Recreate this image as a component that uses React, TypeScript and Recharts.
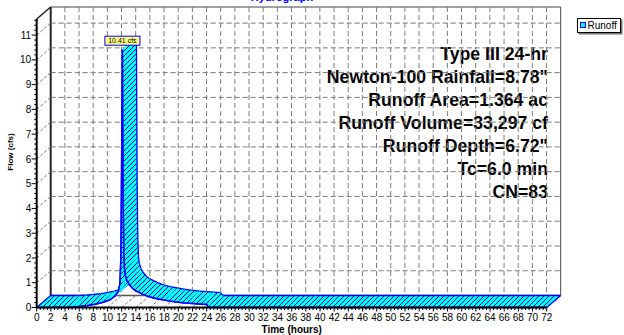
import React from 'react';
import {
  ComposedChart,
  XAxis,
  YAxis,
  Line,
  ReferenceArea,
  ReferenceDot,
  Legend,
  Customized,
} from 'recharts';

// ---------------- data ----------------
const TIME_H = [
  0, 4, 5, 6, 7, 8, 9, 10, 10.5, 11, 11.5, 11.75, 11.9, 12.0, 12.1, 12.2, 12.3, 12.4,
  12.5, 12.75, 13, 13.5, 14, 15, 16, 17, 18, 19, 20, 21, 22, 23, 24, 24.25, 24.5, 72,
];
const FLOW_CFS = [
  0, 0, 0.01, 0.04, 0.07, 0.12, 0.18, 0.27, 0.34, 0.45, 0.65, 0.95, 2.2, 6.5, 10.41, 4.5, 2.2,
  1.55, 1.3, 1.08, 0.95, 0.78, 0.67, 0.53, 0.42, 0.35, 0.3, 0.25, 0.21, 0.18, 0.16, 0.14, 0.12,
  0.02, 0, 0,
];
const SERIES_NAME = 'Runoff';
const PEAK_TIME = 12.1;
const PEAK_FLOW = 10.41;
const PEAK_LABEL = '10.41 cfs';
const X_TICKS = [
  0, 2, 4, 6, 8, 10, 12, 14, 16, 18, 20, 22, 24, 26, 28, 30, 32, 34, 36, 38, 40, 42, 44, 46,
  48, 50, 52, 54, 56, 58, 60, 62, 64, 66, 68, 70, 72,
];
const Y_TICKS = [0, 1, 2, 3, 4, 5, 6, 7, 8, 9, 10, 11];
const X_MAX = 72;
const Y_MAX = 11.65;
const X_MINOR = Array.from({ length: X_MAX * 2 + 1 }, (_, i) => i / 2);
const Y_MINOR = Array.from({ length: 59 }, (_, i) => Math.round(i * 2) / 10);
const INFO_LINES = [
  'Type III 24-hr',
  'Newton-100 Rainfall=8.78"',
  'Runoff Area=1.364 ac',
  'Runoff Volume=33,297 cf',
  'Runoff Depth=6.72"',
  'Tc=6.0 min',
  'CN=83',
];
const TITLE = 'Hydrograph';
const X_LABEL = 'Time  (hours)';
const Y_LABEL = 'Flow  (cfs)';

const DATA = TIME_H.map((t, i) => ({ time: t, flow: FLOW_CFS[i] }));
const SEGMENTS = TIME_H.slice(0, -1).map((t, i) => ({
  t0: t,
  t1: TIME_H[i + 1],
  q0: FLOW_CFS[i],
  q1: FLOW_CFS[i + 1],
}));
const V_GRID = X_TICKS.filter((t) => t > 0 && t < X_MAX);
const H_GRID = Y_TICKS.filter((v) => v > 0);

// ---------------- style ----------------
const FONT = '"Liberation Sans", Arial, Helvetica, sans-serif';
const DX = 14;
const DY = -12;
const GRID = '#7a7a7a';
const DASH = '5 3';
const EDGE = '#0000ff';
const CYAN = '#00ffff';
const HATCH = '#00008b';
const W = 624;
const H = 335;

const isMajorX = (v: number) => Math.abs(v / 2 - Math.round(v / 2)) < 1e-6;
const isMajorY = (v: number) => Math.abs(v - Math.round(v)) < 1e-6;

const XTick = (props: any) => {
  const { x, y, payload } = props;
  const v = payload.value;
  const major = isMajorX(v);
  return (
    <g>
      <line x1={x} x2={x} y1={y} y2={y + (major ? 4 : 2.5)} stroke="#000" strokeWidth={1} />
      {major && (
        <text x={x} y={y + 13.6} textAnchor="middle" fontSize={10} fill="#000" fontFamily={FONT}>
          {v}
        </text>
      )}
    </g>
  );
};

const YTick = (props: any) => {
  const { x, y, payload } = props;
  const v = payload.value;
  const major = isMajorY(v);
  return (
    <g>
      <line x1={x - (major ? 5 : 2.5)} x2={x} y1={y} y2={y} stroke="#000" strokeWidth={1} />
      {major && (
        <text x={x - 5.5} y={y + 3.6} textAnchor="end" fontSize={10} fill="#000" fontFamily={FONT}>
          {Math.round(v)}
        </text>
      )}
    </g>
  );
};

const hGridShape = (p: any) => {
  const { x, y, width } = p;
  return (
    <g>
      <line x1={x} y1={y} x2={x + DX} y2={y + DY} stroke={GRID} strokeDasharray="3 2" />
      <line x1={x + DX} y1={y + DY} x2={x + width + DX} y2={y + DY} stroke={GRID} strokeDasharray={DASH} />
    </g>
  );
};

const vGridShape = (p: any) => {
  const { x, y, height } = p;
  const yb = y + height;
  return (
    <g>
      <line x1={x} y1={yb} x2={x + DX} y2={yb + DY} stroke={GRID} strokeDasharray="3 2" />
      <line x1={x + DX} y1={y + DY} x2={x + DX} y2={yb + DY} stroke={GRID} strokeDasharray={DASH} />
    </g>
  );
};

const boxShape = (p: any) => {
  const { x, y, width, height } = p;
  const yb = y + height;
  return (
    <g>
      <line x1={x + DX} y1={yb + DY} x2={x + width + DX} y2={yb + DY} stroke="#555" strokeWidth={1.5} />
      <line x1={x + DX} y1={y + DY} x2={x + width + DX} y2={y + DY} stroke="#444" strokeWidth={1} />
      <line x1={x + width + DX} y1={y + DY} x2={x + width + DX} y2={yb + DY} stroke="#444" strokeWidth={1} />
      <line x1={x + DX} y1={y + DY} x2={x + DX} y2={yb + DY} stroke="#222" strokeWidth={2} />
      <line x1={x} y1={y} x2={x + DX} y2={y + DY} stroke="#222" strokeWidth={1.5} />
    </g>
  );
};

const quadShape = (rising: boolean, first: boolean, last: boolean) => (p: any) => {
  const { x, y, width, height } = p;
  const x0 = x;
  const x1 = x + width;
  const y0 = rising ? y + height : y;
  const y1 = rising ? y : y + height;
  const pts = `${x0},${y0} ${x1},${y1} ${x1 + DX},${y1 + DY} ${x0 + DX},${y0 + DY}`;
  let d = `M${x0},${y0}L${x1},${y1}M${x0 + DX},${y0 + DY}L${x1 + DX},${y1 + DY}`;
  if (first) d += `M${x0},${y0}L${x0 + DX},${y0 + DY}`;
  if (last) d += `M${x1},${y1}L${x1 + DX},${y1 + DY}`;
  return (
    <g>
      <polygon points={pts} fill="url(#ribbonHatch)" stroke={CYAN} strokeWidth={0.6} />
      <path d={d} fill="none" stroke={EDGE} strokeWidth={1.3} />
    </g>
  );
};

const peakShape = (p: any) => {
  const { cx, cy } = p;
  return (
    <g>
      <rect x={cx - 17.5} y={cy - 13.5} width={35} height={9} fill="#ffff80" stroke={EDGE} strokeWidth={1} />
      <text x={cx} y={cy - 6.5} textAnchor="middle" fontSize={7} fill="#000" fontFamily={FONT}>
        {PEAK_LABEL}
      </text>
    </g>
  );
};

const Decorations = () => (
  <g>
    <defs>
      <pattern id="ribbonHatch" patternUnits="userSpaceOnUse" width={5} height={5}>
        <rect x={0} y={0} width={5} height={5} fill={CYAN} />
        <path d="M-1,6 L6,-1 M-1,1 L1,-1 M4,6 L6,4" stroke={HATCH} strokeWidth={1} />
      </pattern>
    </defs>
    <text x={282} y={1.3} textAnchor="middle" fontSize={11} fontWeight="bold" fill="#0000ff" fontFamily={FONT}>
      {TITLE}
    </text>
    {INFO_LINES.map((s, i) => (
      <text
        key={s}
        x={548}
        y={59.5 + i * 23}
        textAnchor="end"
        fontSize={17.7}
        fontWeight="bold"
        fill="#000"
        fontFamily={FONT}
      >
        {s}
      </text>
    ))}
  </g>
);

const renderLegend = (props: any) => {
  const item = props && props.payload && props.payload[0];
  const label = item && item.value ? item.value : SERIES_NAME;
  return (
    <svg width={46} height={17} style={{ display: 'block' }}>
      <rect x={1.5} y={1.5} width={44} height={15} fill="#777" />
      <rect x={0.5} y={0.5} width={43} height={14} fill="#fff" stroke="#000" />
      <rect x={3.5} y={4.5} width={5} height={5} fill={CYAN} stroke={EDGE} />
      <text x={10.5} y={11} fontSize={10} fill="#000" fontFamily={FONT}>
        {label}
      </text>
    </svg>
  );
};

export default function App() {
  return (
    <div style={{ position: 'absolute', left: 0, top: 0, width: W, height: H, background: '#fff' }}>
      <ComposedChart
        width={W}
        height={H}
        data={DATA}
        margin={{ top: 19, right: 77.3, left: 0, bottom: 0 }}
      >
        <Customized component={<Decorations />} />
        <XAxis
          dataKey="time"
          type="number"
          domain={[0, X_MAX]}
          ticks={X_MINOR}
          interval={0}
          allowDataOverflow
          height={27.5}
          tickSize={0}
          tickMargin={0}
          tickLine={false}
          tick={XTick}
          axisLine={{ stroke: '#000', strokeWidth: 2 }}
          label={{
            value: X_LABEL,
            content: () => (
              <text x={291.7} y={332.5} textAnchor="middle" fontSize={10} fontWeight="bold" fill="#000" fontFamily={FONT}>
                {X_LABEL}
              </text>
            ),
          }}
        />
        <YAxis
          type="number"
          domain={[0, Y_MAX]}
          ticks={Y_MINOR}
          interval={0}
          allowDataOverflow
          width={36.7}
          tickSize={0}
          tickMargin={0}
          tickLine={false}
          tick={YTick}
          axisLine={{ stroke: '#000', strokeWidth: 2 }}
          label={{
            value: Y_LABEL,
            content: () => (
              <text
                x={0}
                y={0}
                transform="translate(12.5,152) rotate(-90)"
                textAnchor="middle"
                fontSize={8}
                fontWeight="bold"
                fill="#000"
                fontFamily={FONT}
              >
                {Y_LABEL}
              </text>
            ),
          }}
        />
        <ReferenceArea x1={0} x2={X_MAX} y1={0} y2={Y_MAX} ifOverflow="visible" shape={boxShape} />
        {H_GRID.map((v) => (
          <ReferenceArea key={`h${v}`} x1={0} x2={X_MAX} y1={v} y2={v} ifOverflow="visible" shape={hGridShape} />
        ))}
        {V_GRID.map((t) => (
          <ReferenceArea key={`v${t}`} x1={t} x2={t} y1={0} y2={Y_MAX} ifOverflow="visible" shape={vGridShape} />
        ))}
        {SEGMENTS.map((s, i) => (
          <ReferenceArea
            key={`q${i}`}
            x1={s.t0}
            x2={s.t1}
            y1={s.q0}
            y2={s.q1}
            ifOverflow="visible"
            shape={quadShape(s.q1 >= s.q0, i === 0, i === SEGMENTS.length - 1)}
          />
        ))}
        <Line
          type="linear"
          dataKey="flow"
          name={SERIES_NAME}
          stroke={EDGE}
          strokeWidth={1.5}
          dot={false}
          activeDot={false}
          legendType="square"
          isAnimationActive={false}
        />
        <ReferenceDot x={PEAK_TIME} y={PEAK_FLOW} r={0} ifOverflow="visible" shape={peakShape} />
        <Legend
          layout="horizontal"
          verticalAlign="middle"
          align="center"
          content={renderLegend}
          wrapperStyle={{ position: 'absolute', left: 577, top: 18, width: 46, height: 17 }}
        />
      </ComposedChart>
    </div>
  );
}
